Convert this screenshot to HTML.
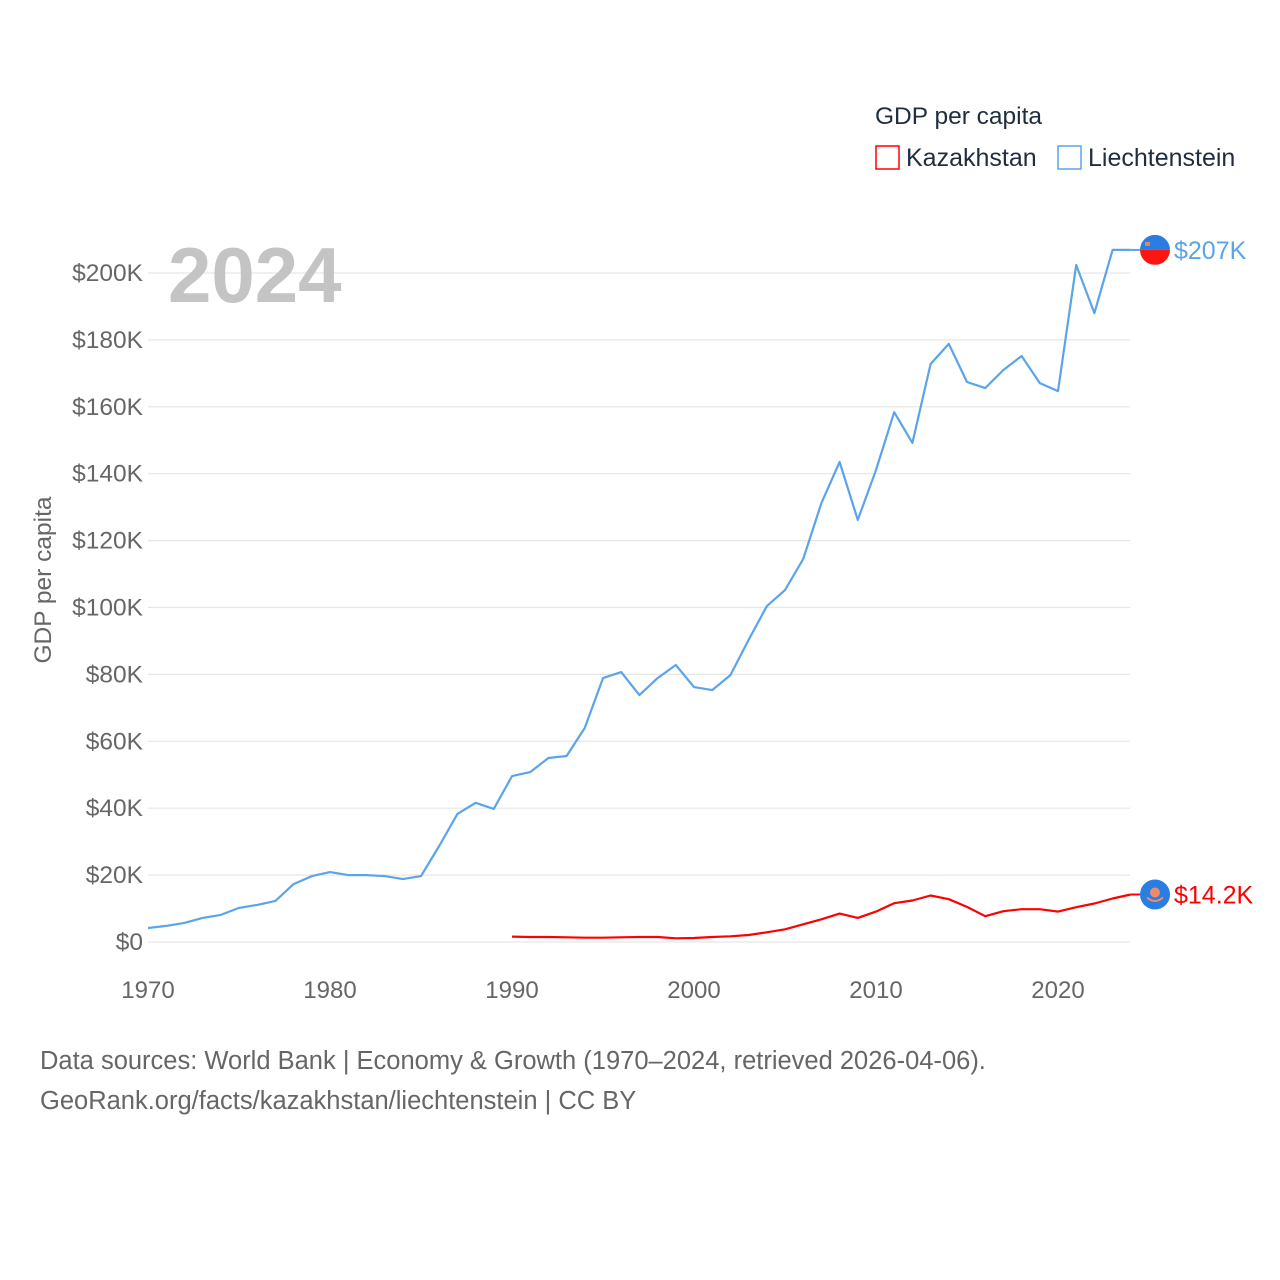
<!DOCTYPE html>
<html><head><meta charset="utf-8"><style>
body{margin:0;background:#fff;}
svg{display:block;font-family:"Liberation Sans",sans-serif;}
</style></head><body>
<svg id="chart" width="1280" height="1280" xmlns="http://www.w3.org/2000/svg">
<g id="grid"></g><g id="yticks"></g><g id="xticks"></g>
<text x="168" y="302" font-size="78" font-weight="bold" fill="#c4c4c4">2024</text>
<text transform="translate(51,580) rotate(-90)" text-anchor="middle" font-size="24.5" fill="#666">GDP per capita</text>
<g id="series"></g>
<text x="875" y="124" font-size="24.5" fill="#1f2d3d">GDP per capita</text>
<g><rect x="876" y="146" width="23" height="23" fill="none" stroke="#ff0000" stroke-width="1.5"/><text x="906" y="166" font-size="25" fill="#1f2d3d">Kazakhstan</text></g>
<g><rect x="1058" y="146" width="23" height="23" fill="none" stroke="#5ba4ea" stroke-width="1.5"/><text x="1088" y="166" font-size="25" fill="#1f2d3d">Liechtenstein</text></g>
<text x="40" y="1069" font-size="25.5" fill="#666">Data sources: World Bank | Economy &amp; Growth (1970–2024, retrieved 2026-04-06).</text>
<text x="40" y="1109" font-size="25.5" fill="#666">GeoRank.org/facts/kazakhstan/liechtenstein | CC BY</text>
</svg>
<script>
const years = [];for(let y=1970;y<=2024;y++)years.push(y);
const lieValues = [4.2,4.8,5.7,7.2,8.1,10.2,11.1,12.3,17.3,19.7,20.9,20.0,20.0,19.7,18.8,19.7,28.7,38.3,41.6,39.8,49.6,50.8,55.0,55.6,64.0,78.9,80.7,73.8,78.9,82.8,76.2,75.3,79.8,90.3,100.4,105.2,114.5,131.2,143.5,126.2,141.1,158.4,149.2,172.8,178.8,167.4,165.6,171.0,175.2,167.1,164.7,202.4,188.0,206.9,206.9];
const kazYears = [];for(let y=1990;y<=2024;y++)kazYears.push(y);
const kazValues = [1.6,1.5,1.5,1.4,1.3,1.3,1.4,1.5,1.5,1.1,1.2,1.5,1.7,2.1,2.9,3.8,5.3,6.8,8.5,7.2,9.1,11.6,12.4,13.9,12.8,10.5,7.7,9.2,9.8,9.8,9.1,10.4,11.5,13.0,14.2];
const yTicks = [0,20,40,60,80,100,120,140,160,180,200];
const yTickLabels = ["$0","$20K","$40K","$60K","$80K","$100K","$120K","$140K","$160K","$180K","$200K"];
const xTicks = [1970,1980,1990,2000,2010,2020];
const NS="http://www.w3.org/2000/svg";
const X=y=>148+(y-1970)*18.2;
const Y=v=>942-v*3.345;
function mk(tag,attrs,parent,txt){const e=document.createElementNS(NS,tag);for(const k in attrs)e.setAttribute(k,attrs[k]);if(txt!=null)e.textContent=txt;parent.appendChild(e);return e;}
const grid=document.getElementById('grid'),yt=document.getElementById('yticks'),xt=document.getElementById('xticks'),ser=document.getElementById('series');
yTicks.forEach((v,i)=>{
 const l=mk('line',{x1:148,x2:1130,y1:Y(v),y2:Y(v),stroke:'#e6e6e6','stroke-width':1.2},grid);
 
 
 const t=mk('text',{x:143,y:Y(v)+8,'text-anchor':'end','font-size':24.5,fill:'#666'},yt,yTickLabels[i]);
 
 
});
xTicks.forEach(v=>{
 const t=mk('text',{x:X(v),y:998,'text-anchor':'middle','font-size':24,fill:'#666'},xt,String(v));
 
 
});
function line(xs,vs,color,name){
 const d=xs.map((x,i)=>(i?'L':'M')+X(x).toFixed(1)+','+Y(vs[i]).toFixed(1)).join('');
 const p=mk('path',{d:d,fill:'none',stroke:color,'stroke-width':2.2,'stroke-linejoin':'round'},ser);
 
 
}
line(years,lieValues,'#5ba4ea','liechtenstein-line');
line(kazYears,kazValues,'#ff0000','kazakhstan-line');
const lv=lieValues[lieValues.length-1], kv=kazValues[kazValues.length-1];
const ly=Y(lv), ky=Y(kv);
mk('line',{x1:X(2024),x2:1140,y1:ly,y2:ly,stroke:'#5ba4ea','stroke-width':2},ser);
mk('line',{x1:X(2024),x2:1140,y1:ky,y2:ky,stroke:'#ff0000','stroke-width':2},ser);
const f1=mk('g',{},ser);


mk('clipPath',{id:'c1'},f1);mk('circle',{cx:1155,cy:ly,r:15},f1.lastChild);
mk('rect',{x:1140,y:ly-15,width:30,height:15,fill:'#2a7de1','clip-path':'url(#c1)'},f1);
mk('rect',{x:1140,y:ly,width:30,height:15,fill:'#ff1414','clip-path':'url(#c1)'},f1);
mk('rect',{x:1145,y:ly-8,width:5,height:4,fill:'#e8845a'},f1);
const f2=mk('g',{},ser);


mk('circle',{cx:1155,cy:ky,r:15,fill:'#2a7de1'},f2);
mk('circle',{cx:1155,cy:ky-2,r:5,fill:'#f08a6a'},f2);
mk('path',{d:`M1147,${ky+3} Q1155,${ky+10} 1163,${ky+3}`,stroke:'#f08a6a','stroke-width':2,fill:'none'},f2);
const t1=mk('text',{x:1174,y:ly+9,'font-size':25,fill:'#5ba4ea'},ser,'$'+Math.round(lv)+'K');


const t2=mk('text',{x:1174,y:ky+9,'font-size':25,fill:'#ff0000'},ser,'$'+kv.toFixed(1)+'K');


</script>
</body></html>
